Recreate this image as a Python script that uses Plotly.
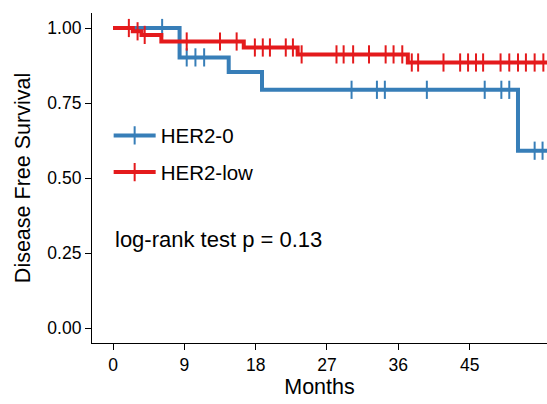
import plotly.graph_objects as go
import numpy as np

# HER2-0 (blue)
her20_times = [0, 8.4, 14.6, 18.8, 51.1, 55.5]
her20_surv = [1.0, 0.902, 0.853, 0.794, 0.591, 0.591]
her20_censor = [6.2, 9.3, 10.4, 11.5, 30.1, 33.3, 34.3, 39.6, 46.9, 49.0, 50.0, 53.2, 54.2]

# HER2-low (red)
her2low_times = [0, 2.5, 3.6, 6.1, 16.5, 23.3, 37.2, 55.5]
her2low_surv = [1.0, 0.989, 0.977, 0.955, 0.935, 0.912, 0.885, 0.885]
her2low_censor = [2.0, 3.1, 4.0, 9.3, 13.5, 15.6, 17.9, 18.9, 19.8, 21.8, 22.7, 23.8,
                  28.2, 29.1, 30.3, 32.3, 34.4, 35.4, 36.5, 37.7, 38.5, 41.7, 43.8, 44.8,
                  45.8, 46.7, 48.9, 50.0, 51.1, 52.1, 53.2, 54.3]

x_ticks = [0, 9, 18, 27, 36, 45]
y_ticks = [0.0, 0.25, 0.5, 0.75, 1.0]

BLUE = "#377EB8"
RED = "#E41A1C"
FONT = "Arial, Liberation Sans, sans-serif"


def surv_at(times, surv, t):
    idx = np.searchsorted(times, t, side="right") - 1
    return surv[idx]


fig = go.Figure()
for name, times, surv, cens, col in [
    ("HER2-0", her20_times, her20_surv, her20_censor, BLUE),
    ("HER2-low", her2low_times, her2low_surv, her2low_censor, RED),
]:
    fig.add_trace(go.Scatter(x=times, y=surv, mode="lines", line=dict(shape="hv", color=col, width=4),
                             showlegend=False, hoverinfo="skip"))
    fig.add_trace(go.Scatter(x=cens, y=[surv_at(times, surv, t) for t in cens], mode="markers",
                             marker=dict(symbol="line-ns", size=13, line=dict(color=col, width=2)),
                             showlegend=False))

for name, col in [("HER2-0", BLUE), ("HER2-low", RED)]:
    fig.add_trace(go.Scatter(x=[None], y=[None], mode="lines+markers", name=name,
                             line=dict(color=col, width=4), legendgroup=name,
                             marker=dict(symbol="line-ns", size=13, line=dict(color=col, width=2))))

fig.add_annotation(x=0, y=0.295, xref="x", yref="y", text="log-rank test p = 0.13", showarrow=False,
                   xanchor="left", yanchor="middle", font=dict(size=22, color="black", family=FONT))

fig.update_layout(
    width=547, height=404,
    margin=dict(l=92.3, r=0, t=13.3, b=60.7),
    plot_bgcolor="white", paper_bgcolor="white",
    font=dict(family=FONT, color="black"),
    showlegend=True,
    legend=dict(x=0.0366, y=0.689, xanchor="left", yanchor="top", bgcolor="rgba(0,0,0,0)",
                font=dict(size=20.5, color="black", family=FONT), traceorder="grouped",
                tracegroupgap=7, itemwidth=42),
    xaxis=dict(range=[-2.65, 54.76], tickvals=x_ticks, ticktext=[str(v) for v in x_ticks],
               showgrid=False, zeroline=False, showline=True, linecolor="black", linewidth=1.2,
               ticks="outside", ticklen=6, tickwidth=1.2, tickcolor="black",
               tickfont=dict(size=17.5, color="black", family=FONT),
               title=dict(text="Months", font=dict(size=21.5, family=FONT), standoff=3)),
    yaxis=dict(range=[-0.05, 1.05], tickvals=y_ticks, ticktext=["0.00", "0.25", "0.50", "0.75", "1.00"],
               showgrid=False, zeroline=False, showline=True, linecolor="black", linewidth=1.2,
               ticks="outside", ticklen=6, tickwidth=1.2, tickcolor="black",
               tickfont=dict(size=17.5, color="black", family=FONT),
               title=dict(text="Disease Free Survival", font=dict(size=21.5, family=FONT), standoff=10)),
)

fig.write_html("out.html")
